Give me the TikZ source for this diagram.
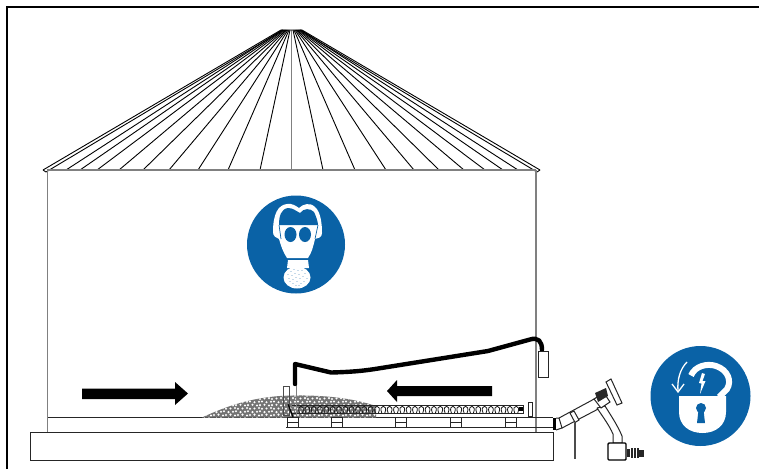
\documentclass[tikz,border=0pt]{standalone}
\usepackage{xcolor}
\usetikzlibrary{arrows.meta}
\definecolor{PB}{HTML}{0A62A6}
\definecolor{PW}{HTML}{808080}
\tikzset{
  thinline/.style={draw=black, line width=0.9pt},
  wallline/.style={draw=PW, line width=1.8pt},
  beamline/.style={draw=black!85, line width=1pt},
  bigarrow/.style={fill=black, draw=none},
  signdisc/.style={fill=PB, draw=none},
  footbox/.style={draw=black!85, line width=1pt, fill=white},
}
\begin{document}
\begin{tikzpicture}[x=1pt,y=-1pt]
  \useasboundingbox (0,0) rectangle (759,469);
  % frame
  \draw[line width=2pt] (7,469) -- (7,7) -- (759,7);

  % roof
  \foreach \foot/\top in {66/282,80/283,97/284,119/285,143/286,169/287,198/288,228/289,260/290,
      323/293,355/294,386/295,414/296,439/297,464/298,485/299,503/300,518/301}
    \draw[thinline] (\foot,170) -- (\top,30);
  \draw[wallline, line width=1.2pt] (291.5,170) -- (291.5,30);
  \draw[thinline] (43,170) -- (281,30) -- (302,30) -- (540,170);
  \draw[thinline] (46,172) -- (283,30);
  \draw[thinline] (537,172) -- (300,30);
  \draw[thinline] (43,170) -- (46,172);
  \draw[thinline] (540,170) -- (537,172);

  % bin walls and slab
  \draw[wallline] (47,170) -- (536,170);
  \draw[wallline] (47.5,170) -- (47.5,432);
  \draw[wallline] (536,170) -- (536,432);
  \draw[beamline] (48,417.5) -- (553,417.5);
  \draw[beamline] (30,432.5) rectangle (553,460.5);

  % grain pile
  \begin{scope}
    \clip (202,417.5) .. controls (235,402) and (262,396) .. (292,395.5)
      .. controls (325,395) and (352,398) .. (376,406) -- (376,417.5) -- cycle;
    \fill[black!55] (195,390) rectangle (380,418);
    \foreach \row in {0,...,8}
      \foreach \col in {0,...,46} {
        \pgfmathsetmacro{\px}{200+4*\col+2*mod(\row,2)+mod(\col*7+\row*3,3)*0.5}
        \pgfmathsetmacro{\py}{391.5+3.3*\row+mod(\col*5+\row,3)*0.4}
        \fill[white] (\px,\py) circle (1.15pt);
      }
  \end{scope}

  % auger tube and screw
  \draw[beamline] (292,405) -- (523,405) -- (523,413) -- (292,413);
  \foreach \i in {0,...,34}
    \draw[black!90, line width=0.8pt] ({299.5+6.33*\i},413)
      .. controls ({295.5+6.33*\i},404) and ({306.5+6.33*\i},404) .. ({302.5+6.33*\i},413);
  \fill[black] (519,407) rectangle (523,411);
  \draw[beamline, fill=white] (528,402) rectangle (532,416);

  % floor beam and feet
  \draw[beamline] (286,427) -- (553,427);
  \foreach \fx in {287,331,395,450,505} {
    \draw[footbox] (\fx,417.5) rectangle (\fx+11,427);
    \draw[beamline] (\fx,422) -- (\fx+11,422);
  }

  % intake posts
  \draw[beamline, draw=black!70] (283,386) rectangle (289,415);
  \draw[wallline, line width=1pt] (296,384) -- (296,415);
  \draw[black, line width=1.2pt] (288,404) -- (293,417);

  % hose and power box
  \draw[line width=4.4pt, line join=round, line cap=round] (295,384) -- (295,364) -- (331,372.5)
    .. controls (350,372) and (362,371) .. (375,369) -- (488,351) -- (530,339.5)
    .. controls (538,337) and (542,341) .. (542,350);
  \draw[beamline, fill=white] (538,351) rectangle (548,377);

  % big arrows
  \fill[bigarrow] (82,388.5) -- (175,388.5) -- (175,382) -- (188,393.5) -- (175,405)
    -- (175,399) -- (82,399) -- cycle;
  \fill[bigarrow] (492,386) -- (397,386) -- (397,380) -- (387,391) -- (397,402)
    -- (397,396) -- (492,396) -- cycle;

  % outside drive
  \fill[black] (553,418) rectangle (556,430);
  \draw[beamline] (556,418) -- (559,418) -- (562,428) -- (556,430);
  \draw[beamline] (559,418) -- (596,398);
  \draw[beamline] (562,428) -- (602,407);
  \draw[beamline, fill=white] (570,413) -- (574,411) -- (579,420) -- (575,422.5) -- cycle;
  \draw[draw=black!70, line width=1.5pt] (575,423) -- (575,459);
  \draw[beamline, fill=white] (597,408) -- (605,406) .. controls (610,414) and (618,426) .. (622,436)
    -- (622,443) -- (613,443) -- (613,434) .. controls (609,425) and (603,417) .. (597,408);
  \draw[beamline, fill=white] (594,399) -- (604,393) -- (610,402) -- (601,408) -- cycle;
  \fill[black!85] (595,393) -- (606,388) -- (608,396) -- (598,402) -- cycle;
  \draw[beamline, fill=white] (606,382) -- (611,379) -- (622,403) -- (617,405) -- cycle;
  \draw[line width=1.4pt, fill=white, rounded corners=1pt] (608,443) rectangle (626,460);
  \fill[black!85] (627,449) rectangle (630,457);
  \foreach \rx in {631,634,637}
    \fill[black!85] (\rx,447.5) rectangle (\rx+2,458);
  \fill[black!85] (639,450) rectangle (644,457);

  % breathing mask sign
  \fill[signdisc] (296,244.5) circle (49pt);
  \fill[white] (273,232) .. controls (273,214) and (278,205) .. (287,204)
    .. controls (292,203) and (296,206) .. (299,208)
    .. controls (303,204) and (310,202) .. (315,207)
    .. controls (321,212) and (322,225) .. (322,233)
    .. controls (322,238) and (318,238) .. (315,239)
    .. controls (313,247) and (312,252) .. (308,258)
    -- (287,258) .. controls (283,252) and (281,246) .. (279,239)
    .. controls (276,238) and (273,236) .. cycle;
  \fill[PB] (279,225) .. controls (279,216) and (281,209) .. (288,208)
    .. controls (293,208) and (296,211) .. (300,213)
    .. controls (304,208) and (310,208) .. (314,212)
    .. controls (316,216) and (318,222) .. (318,225) -- cycle;
  \draw[PB, line width=0.7pt] (279,225) -- (281,239);
  \draw[PB, line width=0.7pt] (318,225) -- (315,239);
  \fill[PB] (290.5,234.5) ellipse (6pt and 7.5pt);
  \fill[PB] (305,234.5) ellipse (6pt and 7.5pt);
  \fill[white] (288,260) -- (308,260) -- (309,268) -- (287,268) -- cycle;
  \fill[white] (297,277.5) ellipse (13.5pt and 11pt);
  \foreach \dx/\dy in {-9/-3,-6/-6,-3/-8,1/-7,5/-7,8/-4,-8/1,-5/-2,-2/-4,2/-3,6/-1,10/1,
      -7/4,-4/2,-1/0,3/1,7/4,-4/6,0/4,4/6,-1/8,2/8}
    \fill[PB] (297+\dx,277.5+\dy) circle (0.45pt);

  % lockout sign
  \fill[signdisc] (700.5,396) circle (50pt);
  \draw[white, line width=6pt] (691,375.5) .. controls (695,366) and (707,363) .. (716,366)
    .. controls (728,370) and (732,381) .. (727,389) -- (719,397);
  \fill[white] (679,396) -- (726,396) -- (726,412)
    .. controls (726,425) and (716,433) .. (702.5,433)
    .. controls (689,433) and (679,425) .. (679,412) -- cycle;
  \fill[PB] (701,408) circle (5pt);
  \fill[PB] (698.5,410) -- (703.5,410) -- (705,423) -- (697,423) -- cycle;
  \fill[white] (702,373) -- (699,383) -- (701.5,383.5) -- (700,394) -- (705.5,381)
    -- (702.5,381) -- (705,374) -- cycle;
  \draw[white, line width=1.3pt] (687,362) .. controls (680,369) and (677,380) .. (678,391);
  \draw[white, line width=1.3pt] (672,384) -- (678,392) -- (684,384);
\end{tikzpicture}
\end{document}
